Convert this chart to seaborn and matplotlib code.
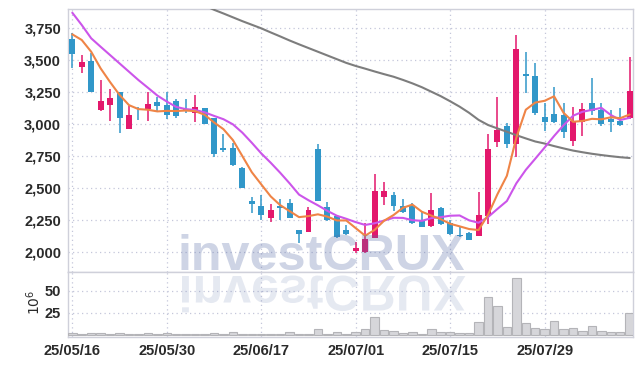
import numpy as np
import matplotlib
matplotlib.use('Agg')
import matplotlib.pyplot as plt
import seaborn as sns
from matplotlib.textpath import TextPath
from matplotlib.patches import PathPatch
from matplotlib.font_manager import FontProperties
from matplotlib.transforms import Affine2D
from matplotlib.ticker import FuncFormatter

# daily candles (KRW)
open_ = [3666, 3450, 3494, 3114, 3153, 3252, 2966, 3088, 3122, 3172,
         3148, 3182, 3119, 3088, 3127, 3047, 2812, 2815, 2656, 2401,
         2362, 2271, 2362, 2383, 2172, 2161, 2807, 2357, 2286, 2172,
         2013, 2005, 2114, 2435, 2448, 2362, 2362, 2252, 2208, 2349,
         2226, 2135, 2148, 2130, 2286, 2859, 2989, 2843, 3390, 3377,
         3054, 3080, 3073, 2872, 3021, 3164, 3112, 3044, 3028, 3047]
high = [3710, 3541, 3554, 3346, 3273, 3255, 3143, 3138, 3250, 3216,
        3250, 3198, 3200, 3231, 3130, 3050, 2922, 2851, 2669, 2429,
        2448, 2375, 2414, 2414, 2175, 2357, 2843, 2396, 2290, 2213,
        2078, 2226, 2609, 2552, 2469, 2414, 2383, 2317, 2466, 2352,
        2252, 2200, 2161, 2469, 2922, 3211, 3008, 3698, 3567, 3476,
        3164, 3294, 3164, 3132, 3164, 3359, 3170, 3110, 3130, 3523]
low = [3442, 3400, 3250, 3106, 3023, 2929, 2966, 3034, 3023, 3096,
       3045, 3052, 3086, 3015, 3000, 2747, 2786, 2675, 2500, 2304,
       2252, 2239, 2252, 2265, 2070, 2158, 2398, 2245, 2114, 2138,
       1992, 1992, 2112, 2370, 2323, 2304, 2220, 2195, 2200, 2213,
       2135, 2122, 2094, 2128, 2219, 2825, 2817, 2747, 3242, 3073,
       2950, 3013, 2890, 2833, 2906, 3073, 2985, 2942, 2990, 3042]
close = [3550, 3484, 3252, 3182, 3205, 3052, 3070, 3085, 3156, 3143,
         3070, 3067, 3104, 3132, 3002, 2768, 2802, 2682, 2505, 2375,
         2291, 2331, 2344, 2271, 2140, 2331, 2401, 2252, 2122, 2140,
         2031, 2104, 2479, 2479, 2362, 2317, 2226, 2200, 2331, 2219,
         2140, 2125, 2096, 2291, 2807, 2953, 2843, 3588, 3380, 3086,
         3021, 3021, 2942, 3028, 3119, 3106, 3002, 3021, 2994, 3260]

# moving averages as drawn
ma5 = [3703, 3659, 3567, 3437, 3330, 3230, 3150, 3119, 3114, 3101,
       3105, 3104, 3108, 3103, 3075, 3015, 2962, 2877, 2752, 2626,
       2531, 2437, 2369, 2322, 2275, 2283, 2297, 2279, 2249, 2249,
       2189, 2130, 2175, 2247, 2291, 2348, 2373, 2317, 2287, 2259,
       2223, 2203, 2182, 2174, 2292, 2454, 2598, 2896, 3114, 3170,
       3184, 3219, 3090, 3020, 3026, 3043, 3039, 3055, 3048, 3077]
ma10 = [3872, 3776, 3672, 3606, 3541, 3476, 3411, 3346, 3286, 3225,
        3178, 3136, 3119, 3112, 3094, 3066, 3040, 3000, 2935, 2856,
        2773, 2700, 2622, 2539, 2451, 2407, 2367, 2324, 2286, 2262,
        2236, 2214, 2227, 2248, 2270, 2269, 2251, 2246, 2267, 2275,
        2286, 2288, 2250, 2231, 2275, 2339, 2401, 2539, 2644, 2731,
        2819, 2909, 2993, 3067, 3098, 3113, 3129, 3073, 3034, 3051]
ma60 = [np.nan] * 13 + [
    3958, 3928, 3895, 3866, 3836, 3806, 3778, 3750, 3718, 3687,
    3655, 3625, 3596, 3567, 3538, 3509, 3480, 3456, 3435, 3413,
    3392, 3372, 3347, 3320, 3290, 3255, 3220, 3180, 3138, 3090,
    3035, 2995, 2968, 2942, 2915, 2890, 2866, 2850, 2830, 2812,
    2795, 2782, 2770, 2760, 2751, 2743, 2737]

# volume, millions of shares
volume = [1.8, 0.8, 1.8, 1.8, 1.5, 1.8, 0.8, 0.8, 1.8, 0.8,
          1.8, 0.8, 0.8, 0.8, 1.2, 2.7, 1.2, 3.7, 1.2, 1.2,
          1.2, 1.2, 1.5, 3.7, 1.2, 1.5, 6.6, 1.5, 3.0, 1.2,
          3.4, 6.6, 20.5, 5.5, 4.1, 2.7, 3.7, 1.5, 6.6, 3.0,
          3.4, 2.3, 2.3, 14.4, 42.9, 32.2, 8.7, 64.3, 13.0, 7.7,
          7.0, 16.2, 6.6, 7.8, 4.5, 10.0, 4.5, 3.2, 3.2, 25.0]

tick_labels = ['25/05/16', '25/05/30', '25/06/17', '25/07/01', '25/07/15', '25/07/29']
price_ticks = [2000, 2250, 2500, 2750, 3000, 3250, 3500, 3750]
vol_ticks = [25, 50]

RED = '#e3186c'
BLUE = '#3197c9'
GRID = '#c4c7da'
SPINE = '#cfd0da'
TXT = '#2a2a2a'

sns.set_theme(style='white')
plt.rcParams['font.family'] = ['Liberation Sans Narrow', 'Liberation Sans', 'DejaVu Sans']

fig = plt.figure(figsize=(6.42, 3.66), dpi=100)
W, H = 642, 366
left, right = 68, 633
ax = fig.add_axes([left / W, 1 - 272.3 / H, (right - left) / W, (272.3 - 9) / H])
axv = fig.add_axes([left / W, 1 - 336.7 / H, (right - left) / W, (336.7 - 272.3) / H], sharex=ax)

o = np.array(open_, float)
c = np.array(close, float)
x = np.arange(len(o))
colors = np.where(c >= o, RED, BLUE)

# candles
ax.vlines(x, low, high, colors=colors, lw=1.1, zorder=3)
ax.bar(x, np.maximum(np.abs(c - o), 6), bottom=np.minimum(o, c), width=0.63,
       color=colors, linewidth=0, zorder=4)

# moving averages
sns.lineplot(x=x, y=ma60, ax=ax, color='#7d7d7d', lw=1.5, zorder=5)
sns.lineplot(x=x, y=ma10, ax=ax, color='#cc55ea', lw=1.5, zorder=5)
sns.lineplot(x=x, y=ma5, ax=ax, color='#ef8446', lw=1.5, zorder=6)

# volume
sns.barplot(x=x, y=volume, ax=axv, native_scale=True, color='#d6d6da',
            edgecolor='#b4b4b8', linewidth=0.8, width=0.9, saturation=1,
            errorbar=None, zorder=3)

ax.set_xlim(-0.455, 59.35)
ax.set_ylim(1844, 3901)
axv.set_ylim(-1.9, 70.7)

ax.set_yticks(price_ticks)
ax.yaxis.set_major_formatter(FuncFormatter(lambda v, p: f'{v:,.0f}'))
axv.set_yticks(vol_ticks)
axv.set_xticks(x[::10])
axv.set_xticklabels(tick_labels)

for a in (ax, axv):
    a.set_xlabel('')
    a.set_ylabel('')
    a.grid(True, color=GRID, ls=(0, (1, 2.6)), lw=0.9)
    a.set_axisbelow(True)
    a.tick_params(length=0, labelsize=10.5, labelcolor=TXT)
    a.tick_params(axis='y', pad=5)
    a.tick_params(axis='x', pad=5)
    for lab in a.get_xticklabels() + a.get_yticklabels():
        lab.set_fontweight('bold')
    for s in a.spines.values():
        s.set_color(SPINE)
        s.set_linewidth(1.0)
ax.tick_params(labelbottom=False)

axv.set_ylabel(r'$10^6$', fontsize=10, color=TXT, rotation=90)
axv.yaxis.set_label_coords(-0.045, 0.54)

# watermark and its reflection
wm_color = '#576ca6'
wm_size = 50.2  # px per em
fig.text(178 / W, (H - 270) / H, 'investCRUX', fontsize=wm_size * 72 / 100,
         family='Liberation Sans', weight='bold', color=wm_color, alpha=0.29,
         ha='left', va='baseline', zorder=10)
tp = TextPath((0, 0), 'investCRUX', size=wm_size,
              prop=FontProperties(family='Liberation Sans', weight='bold'))
tr = Affine2D().scale(1 / 100, -1 / 100).translate(1.785, (H - 276) / 100) + fig.dpi_scale_trans
fig.add_artist(PathPatch(tp, transform=tr, facecolor=wm_color, edgecolor='none',
                         alpha=0.15, zorder=10))

fig.savefig('out.png', dpi=100)
